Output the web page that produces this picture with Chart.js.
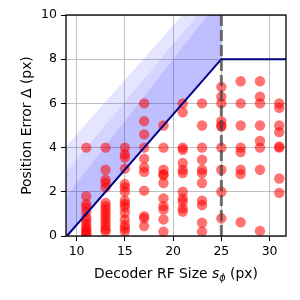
<!DOCTYPE html>
<html><head><meta charset="utf-8">
<script src="https://cdn.jsdelivr.net/npm/chart.js@4.4.0/dist/chart.umd.min.js"></script>
<style>html,body{margin:0;padding:0;background:#fff;}#wrap{width:300px;height:300px;}</style>
</head><body><div id="wrap"><canvas id="c" width="300" height="300"></canvas></div>
<script>
// ---- data ----
const rfSizes = [11, 13, 15, 17, 19, 21, 23, 25, 27, 29, 31];
const errS11 = [4.0, 1.8, 1.45, 1.3, 1.1, 0.85, 0.7, 0.55, 0.4, 0.3, 0.2, 0.1, 0.05];
const errS13 = [4.0, 3.0, 2.55, 2.4, 2.2, 1.5, 1.35, 1.2, 1.05, 0.9, 0.75, 0.6, 0.45, 0.3, 0.2];
const errS15 = [4.0, 3.7, 3.55, 3.05, 2.35, 2.2, 2.0, 1.6, 1.45, 1.3, 1.05, 0.75, 0.5, 0.35, 0.2];
const errS17 = [6.0, 5.2, 4.6, 4.0, 3.5, 3.1, 2.9, 2.05, 0.9, 0.8, 0.45];
const errS19 = [5.0, 4.0, 3.0, 2.8, 2.75, 2.4, 1.7, 1.35, 1.2, 0.75, 0.2];
const errS21 = [6.0, 5.6, 4.0, 3.9, 3.3, 3.0, 2.85, 2.0, 1.7, 1.55, 1.25, 1.1];
const errS23 = [6.0, 5.0, 4.0, 3.45, 3.0, 2.85, 2.4, 1.6, 1.4, 0.6, 0.2];
const errS25 = [6.75, 6.3, 6.0, 5.2, 5.0, 4.95, 4.0, 3.0, 2.0, 0.8];
const errS27 = [7.0, 6.0, 5.0, 4.0, 3.8, 3.0, 2.8, 0.62];
const errS29 = [7.0, 6.3, 6.0, 5.0, 4.3, 4.0, 3.0, 0.23];
const errS31 = [6.0, 5.8, 5.0, 4.7, 4.05, 4.0, 2.6, 1.95];
const errorsBySize = [errS11, errS13, errS15, errS17, errS19, errS21, errS23, errS25, errS27, errS29, errS31];

const boundX = [9, 25, 40];
const boundY = [0, 8, 8];
const cutoffX = 25;
const bandX = [8.9, 25];
const bandLowY = [-0.05, 8];
// band edges from inner (darkest) to outer (lightest)
const bandEdgeLeftY = [1.8, 2.9, 4.05];
const bandEdgeRightY = [10.8, 11.3, 12.0];
const bandAlpha = [0.25, 0.17, 0.1];
const xTicks = [10, 15, 20, 25, 30];
const yTicks = [0, 2, 4, 6, 8, 10];
const xRange = [8.9, 31.7];
const yRange = [0, 10];

// ---- build datasets ----
const scatterPts = [];
rfSizes.forEach((s, i) => errorsBySize[i].forEach(v => scatterPts.push({x: s, y: v})));

const datasets = [];
datasets.push({ data: scatterPts, backgroundColor: 'rgba(255,0,0,0.55)', borderWidth: 0, pointRadius: 5.2, order: 3 });
datasets.push({ data: bandX.map((x, i) => ({x, y: bandLowY[i]})), showLine: true, borderWidth: 0, borderColor: 'rgba(0,0,0,0)', pointRadius: 0, order: 20 });
bandEdgeLeftY.forEach((yl, k) => {
  datasets.push({ data: [{x: bandX[0], y: yl}, {x: bandX[1], y: bandEdgeRightY[k]}], showLine: true, borderWidth: 0, borderColor: 'rgba(0,0,0,0)', pointRadius: 0, fill: datasets.length - 1, backgroundColor: 'rgba(0,0,255,' + bandAlpha[k] + ')', order: 10 + k });
});
datasets.push({ data: boundX.map((x, i) => ({x, y: boundY[i]})), showLine: true, borderColor: '#000080', borderWidth: 2, pointRadius: 0, order: 2 });
datasets.push({ data: [{x: cutoffX, y: yRange[0]}, {x: cutoffX, y: yRange[1]}], showLine: true, borderColor: 'rgba(70,70,70,0.75)', borderWidth: 3, borderDash: [11, 4], pointRadius: 0, order: 1 });

const frame = {
  id: 'frame',
  afterDatasetsDraw(chart) {
    const {ctx, chartArea: a} = chart;
    ctx.save();
    ctx.strokeStyle = '#000'; ctx.lineWidth = 1.3;
    ctx.strokeRect(a.left, a.top, a.right - a.left, a.bottom - a.top);
    ctx.restore();
  },
  afterDraw(chart) {
    const {ctx, chartArea: a} = chart;
    const parts = [
      {t: 'Decoder RF Size ', f: '13.9px "DejaVu Sans"', dy: 0},
      {t: 's', f: 'italic 13.9px "DejaVu Sans"', dy: 0},
      {t: 'ϕ', f: 'italic 9.7px "DejaVu Sans"', dy: 3},
      {t: ' (px)', f: '13.9px "DejaVu Sans"', dy: 0}
    ];
    ctx.save();
    ctx.fillStyle = '#000'; ctx.textBaseline = 'alphabetic'; ctx.textAlign = 'left';
    let w = 0;
    parts.forEach(p => { ctx.font = p.f; p.w = ctx.measureText(p.t).width; w += p.w; });
    let x = (a.left + a.right) / 2 - w / 2;
    const base = 278;
    parts.forEach(p => { ctx.font = p.f; ctx.fillText(p.t, x, base + p.dy); x += p.w; });
    ctx.restore();
  }
};

new Chart(document.getElementById('c'), {
  type: 'scatter',
  data: { datasets },
  options: {
    responsive: false, animation: false, devicePixelRatio: 1,
    layout: { padding: { left: 0, right: 14, top: 15, bottom: 0 } },
    plugins: { legend: { display: false }, tooltip: { enabled: false } },
    scales: {
      x: {
        type: 'linear', min: xRange[0], max: xRange[1],
        afterFit(s) { s.height = 64; },
        afterBuildTicks(s) { s.ticks = xTicks.map(v => ({value: v})); },
        grid: { color: '#b0b0b0', lineWidth: 0.8, tickColor: '#000', tickLength: 5, tickWidth: 1 },
        border: { display: false },
        ticks: { color: '#000', font: { family: 'DejaVu Sans', size: 12.5 }, padding: 3, maxRotation: 0 }
      },
      y: {
        type: 'linear', min: yRange[0], max: yRange[1],
        afterFit(s) { s.width = 66; },
        afterBuildTicks(s) { s.ticks = yTicks.map(v => ({value: v})); },
        grid: { color: '#b0b0b0', lineWidth: 0.8, tickColor: '#000', tickLength: 5, tickWidth: 1 },
        border: { display: false },
        ticks: { color: '#000', font: { family: 'DejaVu Sans', size: 12.5 }, padding: 4 },
        title: { display: true, text: 'Position Error Δ (px)', color: '#000', font: { family: 'DejaVu Sans', size: 13.9, lineHeight: 1.2 }, padding: { top: 19, bottom: 0 } }
      }
    }
  },
  plugins: [frame]
});
</script></body></html>
